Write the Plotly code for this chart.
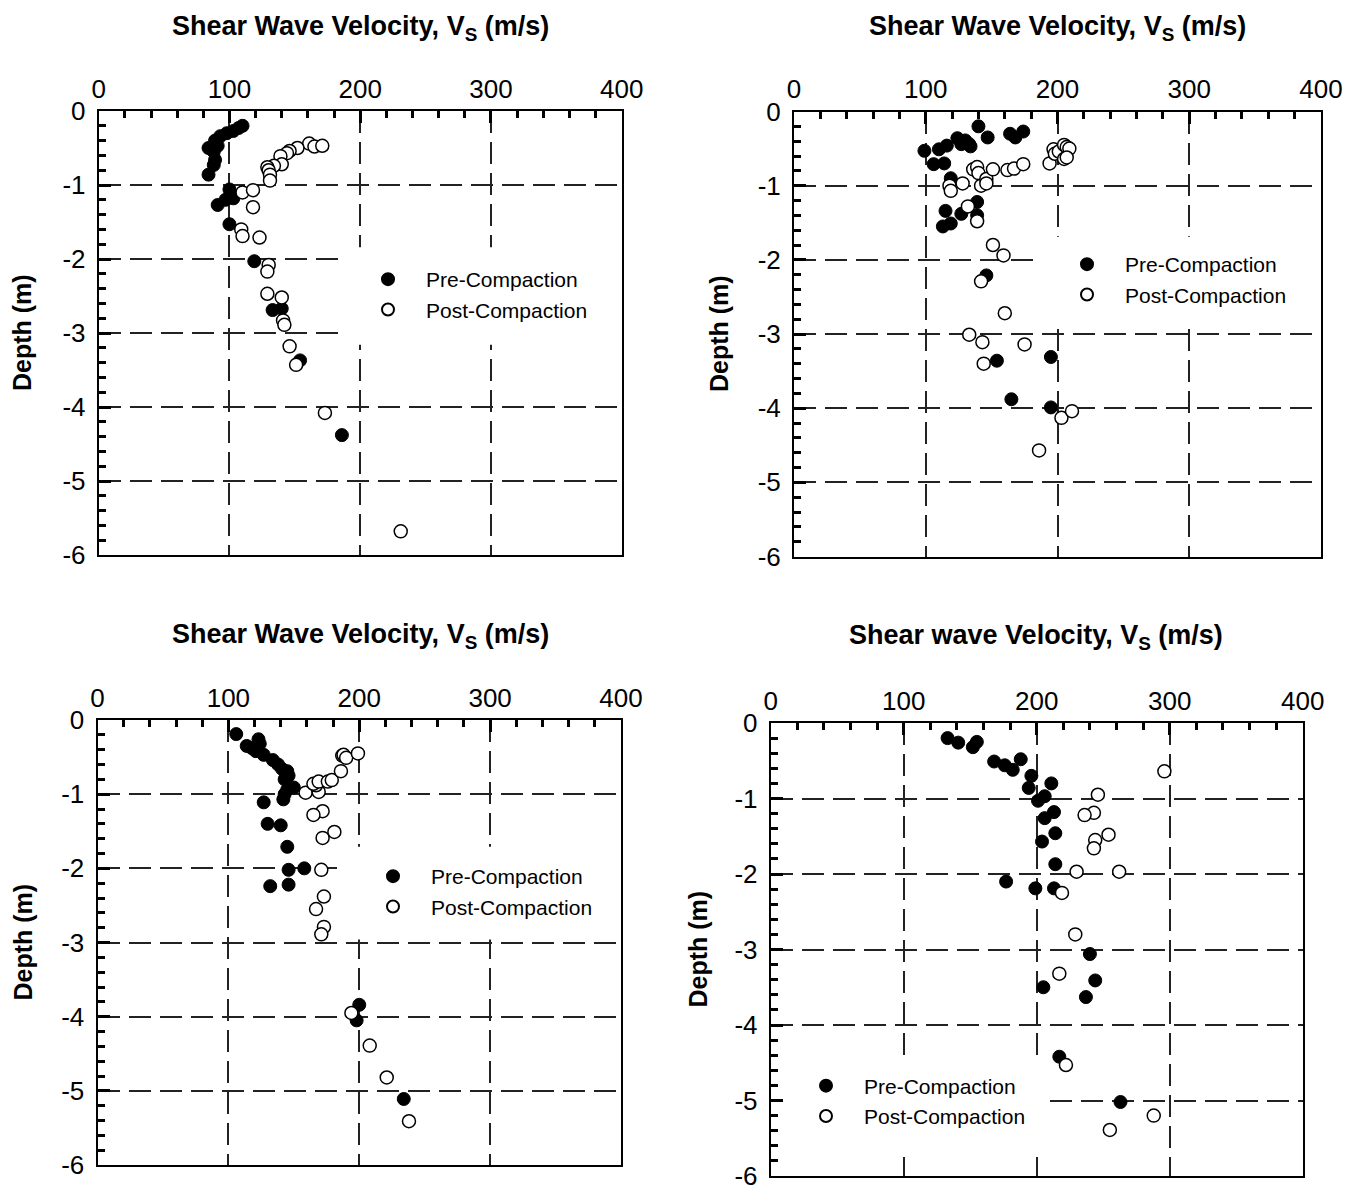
import plotly.graph_objects as go

# ---------------- data ----------------
p1_pre_v = [110, 107, 103, 98, 93, 89, 91, 84, 88, 89, 88, 84, 100, 103, 97, 91, 100, 119, 133, 140, 154, 186]
p1_pre_d = [-0.20, -0.23, -0.27, -0.30, -0.34, -0.40, -0.47, -0.50, -0.55, -0.66, -0.73, -0.86, -1.06, -1.18,
            -1.20, -1.27, -1.53, -2.03, -2.69, -2.67, -3.37, -4.38]
p1_post_v = [161, 165, 171, 152, 146, 144, 139, 140, 134, 129, 130, 131, 131, 110, 118, 118, 109, 110, 123,
             130, 129, 129, 140, 141, 142, 146, 151, 173, 231]
p1_post_d = [-0.44, -0.48, -0.47, -0.50, -0.54, -0.57, -0.61, -0.72, -0.74, -0.76, -0.80, -0.86, -0.94, -1.10,
             -1.07, -1.30, -1.60, -1.69, -1.71, -2.08, -2.17, -2.47, -2.52, -2.83, -2.89, -3.18, -3.43, -4.08, -5.68]

p2_pre_v = [99, 106, 110, 114, 116, 119, 124, 127, 130, 133, 134, 140, 147, 164, 168, 174, 115, 113, 119, 127,
            139, 139, 146, 154, 195, 165, 195]
p2_pre_d = [-0.53, -0.71, -0.51, -0.70, -0.46, -0.90, -0.36, -0.44, -0.39, -0.44, -0.47, -0.20, -0.35, -0.30,
            -0.35, -0.27, -1.34, -1.55, -1.51, -1.38, -1.22, -1.40, -2.21, -3.36, -3.31, -3.88, -3.99]
p2_post_v = [118, 119, 128, 132, 136, 139, 140, 142, 146, 146, 151, 162, 167, 174, 194, 197, 198, 201, 205, 205,
             207, 209, 207, 139, 151, 159, 142, 160, 133, 143, 175, 144, 203, 211, 186]
p2_post_d = [-1.00, -1.07, -0.97, -1.28, -0.78, -0.75, -0.83, -1.00, -0.91, -0.97, -0.78, -0.79, -0.77, -0.71,
             -0.70, -0.51, -0.57, -0.54, -0.45, -0.64, -0.48, -0.50, -0.62, -1.48, -1.80, -1.94, -2.29, -2.72,
             -3.01, -3.11, -3.14, -3.40, -4.13, -4.04, -4.57]

p3_pre_v = [106, 114, 118, 123, 124, 121, 127, 134, 138, 141, 145, 146, 143, 150, 145, 143, 142, 127, 130, 140,
            145, 146, 158, 132, 146, 200, 198, 234]
p3_pre_d = [-0.19, -0.35, -0.38, -0.26, -0.32, -0.42, -0.47, -0.54, -0.60, -0.66, -0.69, -0.75, -0.80, -0.91,
            -0.94, -1.00, -1.07, -1.11, -1.40, -1.42, -1.71, -2.02, -2.00, -2.24, -2.22, -3.84, -4.05, -5.11]
p3_post_v = [159, 169, 167, 165, 169, 176, 179, 186, 187, 188, 190, 199, 172, 165, 181, 172, 171, 173, 167, 173,
             171, 194, 208, 221, 238]
p3_post_d = [-0.98, -0.97, -0.88, -0.86, -0.83, -0.83, -0.81, -0.69, -0.48, -0.47, -0.51, -0.45, -1.23, -1.28,
             -1.51, -1.59, -2.02, -2.38, -2.55, -2.79, -2.89, -3.95, -4.39, -4.82, -5.41]

p4_pre_v = [133, 141, 152, 155, 168, 176, 182, 188, 196, 194, 211, 201, 206, 206, 213, 204, 214, 214, 177, 199,
            213, 240, 244, 205, 237, 217, 263]
p4_pre_d = [-0.20, -0.26, -0.32, -0.25, -0.51, -0.56, -0.62, -0.48, -0.70, -0.86, -0.80, -1.03, -0.97, -1.26,
            -1.18, -1.57, -1.46, -1.87, -2.10, -2.19, -2.19, -3.06, -3.41, -3.50, -3.63, -4.42, -5.02]
p4_post_v = [296, 246, 243, 236, 254, 244, 243, 230, 262, 219, 229, 217, 222, 288, 255]
p4_post_d = [-0.64, -0.95, -1.19, -1.22, -1.48, -1.55, -1.66, -1.97, -1.97, -2.25, -2.80, -3.32, -4.53, -5.20,
             -5.39]

series_names = ["Pre-Compaction", "Post-Compaction"]
titles = ["Shear Wave Velocity, V<sub>S</sub> (m/s)", "Shear Wave Velocity, V<sub>S</sub> (m/s)",
          "Shear Wave Velocity, V<sub>S</sub> (m/s)", "Shear wave Velocity, V<sub>S</sub> (m/s)"]
y_title = "Depth (m)"
x_tickvals = [0, 100, 200, 300, 400]
x_ticktext = ["0", "100", "200", "300", "400"]
y_tickvals = [0, -1, -2, -3, -4, -5, -6]
y_ticktext = ["0", "-1", "-2", "-3", "-4", "-5", "-6"]

panels = [
    (p1_pre_v, p1_pre_d, p1_post_v, p1_post_d),
    (p2_pre_v, p2_pre_d, p2_post_v, p2_post_d),
    (p3_pre_v, p3_pre_d, p3_post_v, p3_post_d),
    (p4_pre_v, p4_pre_d, p4_post_v, p4_post_d),
]

# ---------------- layout geometry (pixels, page coordinates) ----------------
OFF = 8                       # default page body margin
W, H = 1358 - 2 * OFF, 1200 - OFF
FONT = "Liberation Sans, Arial, Helvetica, sans-serif"
# plot boxes: (left, right, top, bottom)
boxes = [(98.7, 621.7, 111, 555), (794, 1321, 111.5, 556.5), (97.5, 621, 720, 1165), (770.7, 1302.7, 723, 1176)]
# legend top-left
legend_pos = [(350, 259), (1049, 244), (355, 856), (788, 1065.5)]
# title centres
title_pos = [(360, 28), (1057, 28), (360, 636), (1036, 637)]
ytitle_x = [22, 719, 22, 697]
# white boxes behind legends (data coords): x0, x1, y0, y1
legend_clear = [(184.6, 400, -1.84, -3.16), (183.7, 400, -1.69, -2.81), (184, 400, -1.71, -2.96),
                (0, 204, -4.42, -5.66)]


def fx(px):
    return (px - OFF) / W


def fy(py):
    return 1 - (py - OFF) / H


fig = go.Figure()

legend_keys = ["legend", "legend2", "legend3", "legend4"]
for i, (prev, pred, postv, postd) in enumerate(panels):
    ax = "" if i == 0 else str(i + 1)
    fig.add_trace(go.Scatter(
        x=prev, y=pred, mode="markers", name=series_names[0],
        xaxis="x" + ax, yaxis="y" + ax, legend=legend_keys[i],
        marker=dict(symbol="circle", size=13, color="black", line=dict(color="black", width=1)),
    ))
    fig.add_trace(go.Scatter(
        x=postv, y=postd, mode="markers", name=series_names[1],
        xaxis="x" + ax, yaxis="y" + ax, legend=legend_keys[i],
        marker=dict(symbol="circle", size=13, color="white", line=dict(color="black", width=1.5)),
    ))

layout = dict(
    width=W, height=H, autosize=False,
    margin=dict(l=0, r=0, t=0, b=0, autoexpand=False),
    paper_bgcolor="white", plot_bgcolor="white",
    font=dict(family=FONT, size=26, color="black"),
    annotations=[], shapes=[],
)

for i, (l, r, t, b) in enumerate(boxes):
    ax = "" if i == 0 else str(i + 1)
    xd = [fx(l), fx(r)]
    yd = [fy(b), fy(t)]
    layout["xaxis" + ax] = dict(
        domain=xd, anchor="y" + ax, side="top", range=[0, 400], automargin=False,
        tickvals=x_tickvals, ticktext=x_ticktext,
        ticks="inside", ticklen=12, tickwidth=2.5, tickcolor="black",
        ticklabelstandoff=1, ticklabeloverflow="allow",
        minor=dict(dtick=20, tick0=0, ticks="inside", ticklen=7, tickwidth=2.5, tickcolor="black", showgrid=False),
        showline=True, linecolor="black", linewidth=2, mirror=True,
        showgrid=True, gridcolor="#222", gridwidth=2, griddash="22px,9px",
        zeroline=False, tickfont=dict(size=26, family=FONT),
    )
    layout["yaxis" + ax] = dict(
        domain=yd, anchor="x" + ax, range=[-6, 0], automargin=False,
        tickvals=y_tickvals, ticktext=y_ticktext,
        ticks="inside", ticklen=12, tickwidth=2.5, tickcolor="black",
        ticklabelstandoff=6, ticklabeloverflow="allow",
        minor=dict(dtick=0.2, tick0=0, ticks="inside", ticklen=7, tickwidth=2.5, tickcolor="black", showgrid=False),
        showline=True, linecolor="black", linewidth=2, mirror=True,
        showgrid=True, gridcolor="#222", gridwidth=1.5, griddash="22px,9px",
        zeroline=False, tickfont=dict(size=26, family=FONT),
    )
    lx, ly = legend_pos[i]
    layout[legend_keys[i]] = dict(
        x=fx(lx), y=fy(ly), xanchor="left", yanchor="top", xref="paper", yref="paper",
        bgcolor="rgba(255,255,255,0)", borderwidth=0, itemwidth=66,
        font=dict(size=21, family=FONT), itemsizing="constant",
    )
    tx, ty = title_pos[i]
    layout["annotations"].append(dict(
        text="<b>" + titles[i] + "</b>", x=fx(tx), y=fy(ty), xref="paper", yref="paper",
        xanchor="center", yanchor="middle", showarrow=False, font=dict(size=27, family=FONT),
    ))
    layout["annotations"].append(dict(
        text="<b>" + y_title + "</b>", x=fx(ytitle_x[i]), y=fy((t + b) / 2), xref="paper", yref="paper",
        xanchor="center", yanchor="middle", textangle=-90, showarrow=False, font=dict(size=25, family=FONT),
    ))
    x0, x1, y0, y1 = legend_clear[i]
    layout["shapes"].append(dict(
        type="rect", xref="x" + ax, yref="y" + ax, x0=x0, x1=x1, y0=y0, y1=y1,
        fillcolor="white", line=dict(width=0), layer="between",
    ))

fig.update_layout(**layout)
fig.write_html("out.html")
